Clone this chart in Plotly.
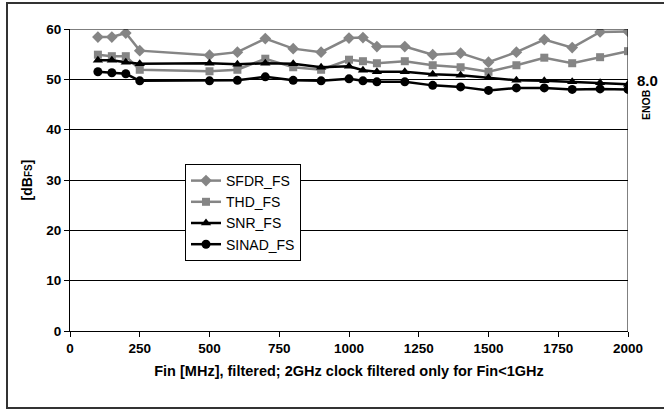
import plotly.graph_objects as go

fin_mhz = [100, 150, 200, 250, 500, 600, 700, 800, 900, 1000, 1050, 1100,
           1200, 1300, 1400, 1500, 1600, 1700, 1800, 1900, 2000]
sfdr_fs = [58.4, 58.4, 59.2, 55.7, 54.8, 55.4, 58.1, 56.1, 55.4, 58.2, 58.3, 56.5,
           56.5, 54.9, 55.2, 53.4, 55.4, 57.9, 56.3, 59.4, 59.5]
thd_fs = [54.9, 54.6, 54.6, 51.9, 51.6, 51.9, 54.1, 52.4, 51.9, 53.9, 53.6, 53.2,
          53.6, 52.8, 52.4, 51.5, 52.8, 54.3, 53.2, 54.4, 55.6]
snr_fs = [53.8, 53.8, 53.4, 53.1, 53.2, 53.0, 53.2, 53.1, 52.4, 52.6, 51.8, 51.5,
          51.5, 51.0, 50.8, 50.3, 49.8, 49.7, 49.5, 49.3, 49.0]
sinad_fs = [51.5, 51.3, 51.1, 49.7, 49.7, 49.8, 50.5, 49.8, 49.7, 50.1, 49.7, 49.5,
            49.5, 48.8, 48.5, 47.8, 48.3, 48.3, 48.0, 48.1, 48.0]

x_ticks = [0, 250, 500, 750, 1000, 1250, 1500, 1750, 2000]
y_ticks = [0, 10, 20, 30, 40, 50, 60]

FONT = "Liberation Sans, Arial, sans-serif"
GRAY = "#858585"

L, R, T, B = 70, 36, 29, 79
PW = 664 - L - R
PH = 410 - T - B


def px(xp):
    return (xp - L) / PW


def py(yp):
    return (410 - B - yp) / PH


fig = go.Figure()
series = [
    ("SFDR_FS", sfdr_fs, GRAY, "diamond", 9),
    ("THD_FS", thd_fs, GRAY, "square", 8),
    ("SNR_FS", snr_fs, "black", "triangle-up", 9),
    ("SINAD_FS", sinad_fs, "black", "circle", 9),
]
for name, vals, col, sym, sz in series:
    fig.add_trace(go.Scatter(
        x=fin_mhz, y=vals, name=name, mode="lines+markers",
        line=dict(color=col, width=2.5),
        marker=dict(symbol=sym, size=sz, color=col),
    ))

fig.update_layout(
    width=664, height=410,
    margin=dict(l=L, r=R, t=T, b=B, autoexpand=False),
    paper_bgcolor="white", plot_bgcolor="white",
    font=dict(family=FONT, size=13, color="black"),
    showlegend=True,
    legend=dict(
        x=px(185), y=py(164), xanchor="left", yanchor="top",
        bgcolor="white", bordercolor="black", borderwidth=1,
        font=dict(family=FONT, size=14, color="black"),
        tracegroupgap=0, itemwidth=30,
    ),
    xaxis=dict(
        range=[0, 2000], tickvals=x_ticks, ticktext=[f"<b>{v}</b>" for v in x_ticks],
        showgrid=False, zeroline=False,
        showline=True, linecolor="black", linewidth=1, mirror=False,
        ticks="outside", ticklen=5, tickcolor="black",
        tickfont=dict(size=13.5),
        title=dict(text="<b>Fin [MHz], filtered; 2GHz clock filtered only for Fin&lt;1GHz</b>",
                   font=dict(size=14.5), standoff=10),
    ),
    yaxis=dict(
        range=[0, 60], tickvals=y_ticks, ticktext=[f"<b>{v}</b>" for v in y_ticks],
        showgrid=True, gridcolor="black", gridwidth=1, zeroline=False,
        showline=True, linecolor="black", linewidth=1,
        ticks="outside", ticklen=5, tickcolor="black",
        tickfont=dict(size=13.5),
        title=dict(text="<b>[dB<span style='font-size:10px'>FS</span>]</b>",
                   font=dict(size=14), standoff=10),
    ),
    shapes=[
        dict(type="line", xref="x", yref="y", x0=2000, x1=2000, y0=0, y1=60,
             line=dict(color="black", width=1)),
        dict(type="line", xref="x", yref="y", x0=0, x1=2000, y0=60, y1=60,
             line=dict(color="black", width=1)),
        dict(type="rect", xref="paper", yref="paper",
             x0=px(7), x1=px(672), y0=py(408), y1=py(3),
             line=dict(color="#333333", width=2), fillcolor="rgba(0,0,0,0)", layer="below"),
    ],
    annotations=[
        dict(text="<b>8.0</b>", xref="paper", yref="paper",
             x=px(635), y=py(80), xanchor="left", yanchor="middle", showarrow=False,
             font=dict(family=FONT, size=15)),
        dict(text="<b>ENOB</b>", xref="paper", yref="paper",
             x=px(646), y=py(105), xanchor="center", yanchor="middle",
             showarrow=False, textangle=-90,
             font=dict(family=FONT, size=10.5)),
    ],
)

fig.write_html("out.html")
